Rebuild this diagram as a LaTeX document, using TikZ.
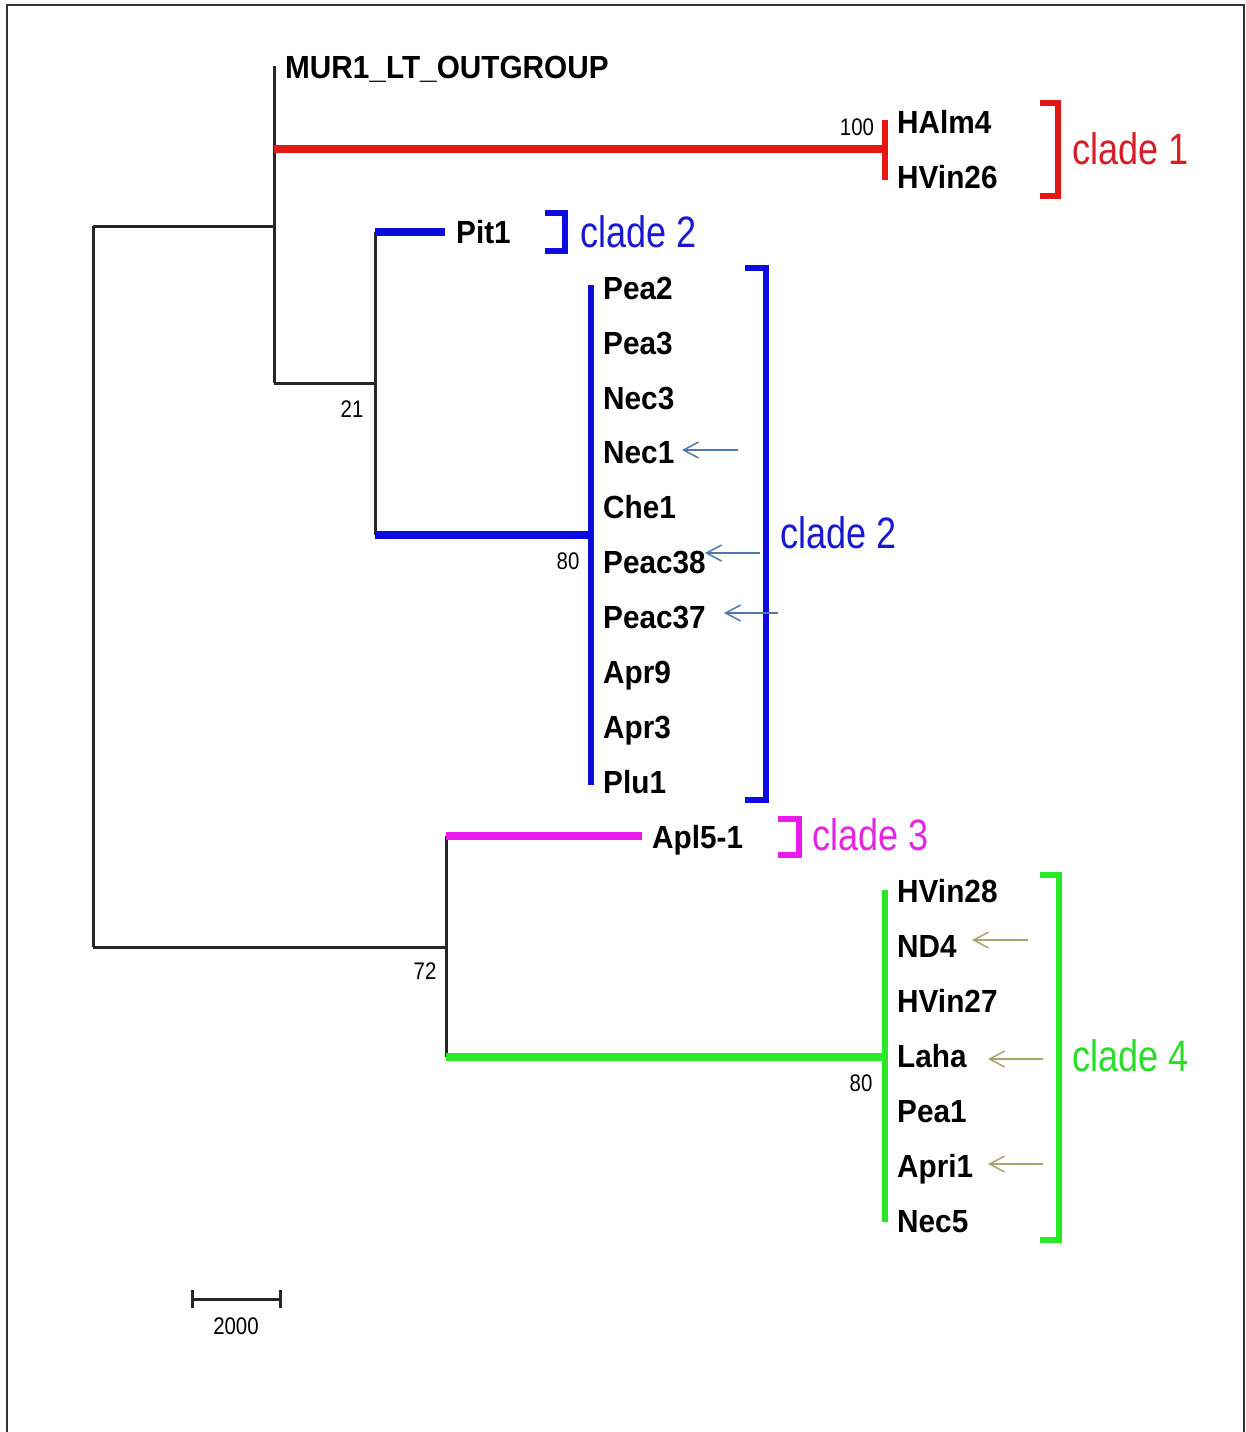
\documentclass[tikz,border=0pt]{standalone}
\usepackage{fontspec}
\setmainfont{Liberation Sans}
\usetikzlibrary{arrows.meta}
\definecolor{cred}{RGB}{228,22,22}
\definecolor{cblue}{RGB}{12,12,225}
\definecolor{cmag}{RGB}{235,25,235}
\definecolor{cgreen}{RGB}{40,232,40}
\definecolor{tred}{RGB}{215,30,40}
\definecolor{tblue}{RGB}{25,25,210}
\definecolor{tmag}{RGB}{225,40,225}
\definecolor{tgreen}{RGB}{40,220,40}
\definecolor{arrblue}{RGB}{80,120,175}
\definecolor{arrolive}{RGB}{165,165,115}
\begin{document}
\begin{tikzpicture}[x=1pt,y=-1pt,
  taxon/.style={anchor=base west,inner sep=0pt,font=\fontsize{32}{32}\selectfont\bfseries,xscale=0.93},
  bootval/.style={inner sep=0pt,font=\fontsize{24}{24}\selectfont,xscale=0.85},
  cladetext/.style={anchor=base west,inner sep=0pt,font=\fontsize{44}{44}\selectfont,xscale=0.82},
  blackline/.style={line width=3pt,black!85},
  hbranch/.style={line width=7.5pt},
  vbranch/.style={line width=6pt},
  bracketline/.style={line width=6pt},
  pointer/.style={line width=1.5pt,-{Straight Barb[length=15pt,width=16pt,line width=1.5pt]}}
]
\useasboundingbox (0,0) rectangle (1246,1432);
% frame
\draw[line width=1.8pt,black!80] (7,1432) -- (7,5) -- (1244,5) -- (1244,1432);

% internal node coordinates
\coordinate (rootT) at (93,226);
\coordinate (rootB) at (93,947);
\coordinate (aMid) at (274,226);
\coordinate (aTop) at (274,66);
\coordinate (aRed) at (274,149);
\coordinate (aBot) at (274,383);
\coordinate (bMid) at (375,383);
\coordinate (bTop) at (375,232);
\coordinate (bBot) at (375,535);
\coordinate (cTop) at (591,285);
\coordinate (cMid) at (591,535);
\coordinate (cBot) at (591,785);
\coordinate (rTop) at (885,120);
\coordinate (rMid) at (885,149);
\coordinate (rBot) at (885,180);
\coordinate (pitEnd) at (445,232);
\coordinate (dMid) at (446,947);
\coordinate (dTop) at (446,836);
\coordinate (dBot) at (446,1057);
\coordinate (aplEnd) at (642,836);
\coordinate (gTop) at (885,890);
\coordinate (gMid) at (885,1057);
\coordinate (gBot) at (885,1222);

% black connectors
\draw[blackline] (rootT) -- (rootB);
\draw[blackline] (rootT) -- (aMid);
\draw[blackline] (aTop) -- (aBot);
\draw[blackline] (aBot) -- (bMid);
\draw[blackline] (bTop) -- (bBot);
\draw[blackline] (rootB) -- (dMid);
\draw[blackline] (dTop) -- (dBot);

% coloured branches
\draw[hbranch,cred] (aRed) -- (rMid);
\draw[vbranch,cred] (rTop) -- (rBot);
\draw[hbranch,cblue] (bTop) -- (pitEnd);
\draw[hbranch,cblue] (bBot) -- (cMid);
\draw[vbranch,cblue] (cTop) -- (cBot);
\draw[hbranch,cmag] (dTop) -- (aplEnd);
\draw[hbranch,cgreen] (dBot) -- (gMid);
\draw[vbranch,cgreen] (gTop) -- (gBot);

% taxa
\node[taxon] (mur) at (285,78) {MUR1\_LT\_OUTGROUP};
\node[taxon] (halm4) at (897,133) {HAlm4};
\node[taxon] (hvin26) at (897,188) {HVin26};
\node[taxon] (pit1) at (456,243) {Pit1};
\node[taxon] (pea2) at (603,299) {Pea2};
\node[taxon] (pea3) at (603,354) {Pea3};
\node[taxon] (nec3) at (603,409) {Nec3};
\node[taxon] (nec1) at (603,463) {Nec1};
\node[taxon] (che1) at (603,518) {Che1};
\node[taxon] (peac38) at (603,573) {Peac38};
\node[taxon] (peac37) at (603,628) {Peac37};
\node[taxon] (apr9) at (603,683) {Apr9};
\node[taxon] (apr3) at (603,738) {Apr3};
\node[taxon] (plu1) at (603,793) {Plu1};
\node[taxon] (apl5) at (652,848) {Apl5-1};
\node[taxon] (hvin28) at (897,902) {HVin28};
\node[taxon] (nd4) at (897,957) {ND4};
\node[taxon] (hvin27) at (897,1012) {HVin27};
\node[taxon] (laha) at (897,1067) {Laha};
\node[taxon] (pea1) at (897,1122) {Pea1};
\node[taxon] (apri1) at (897,1177) {Apri1};
\node[taxon] (nec5) at (897,1232) {Nec5};

% bootstrap values
\node[bootval] (b100) at (857,127) {100};
\node[bootval] (b21) at (352,409) {21};
\node[bootval] (b80a) at (568,561) {80};
\node[bootval] (b72) at (425,971) {72};
\node[bootval] (b80b) at (861,1083) {80};

% clade brackets
\draw[bracketline,cred] (1040,103) -- (1058,103) -- (1058,196) -- (1040,196);
\draw[bracketline,cblue] (545,213) -- (565,213) -- (565,251) -- (545,251);
\draw[bracketline,cblue] (745,268) -- (766,268) -- (766,800) -- (745,800);
\draw[bracketline,cmag] (778,819) -- (799,819) -- (799,855) -- (778,855);
\draw[bracketline,cgreen] (1040,875) -- (1059,875) -- (1059,1240) -- (1040,1240);

% clade labels
\node[cladetext,text=tred] (cl1) at (1072,164) {clade 1};
\node[cladetext,text=tblue] (cl2a) at (580,247) {clade 2};
\node[cladetext,text=tblue] (cl2b) at (780,548) {clade 2};
\node[cladetext,text=tmag] (cl3) at (812,850) {clade 3};
\node[cladetext,text=tgreen] (cl4) at (1072,1071) {clade 4};

% pointer arrows
\coordinate (p1s) at (738,450); \coordinate (p1e) at (682,450);
\coordinate (p2s) at (760,553); \coordinate (p2e) at (705,553);
\coordinate (p3s) at (778,613); \coordinate (p3e) at (724,613);
\coordinate (p4s) at (1028,940); \coordinate (p4e) at (972,940);
\coordinate (p5s) at (1043,1059); \coordinate (p5e) at (988,1059);
\coordinate (p6s) at (1043,1164); \coordinate (p6e) at (988,1164);
\draw[pointer,arrblue] (p1s) -- (p1e);
\draw[pointer,arrblue] (p2s) -- (p2e);
\draw[pointer,arrblue] (p3s) -- (p3e);
\draw[pointer,arrolive] (p4s) -- (p4e);
\draw[pointer,arrolive] (p5s) -- (p5e);
\draw[pointer,arrolive] (p6s) -- (p6e);

% scale bar
\coordinate (sL) at (192,1299);
\coordinate (sR) at (280,1299);
\draw[line width=3pt,black!85] (sL) -- (sR);
\draw[line width=3pt,black!85] ([yshift=-9pt]sL) -- ([yshift=9pt]sL);
\draw[line width=3pt,black!85] ([yshift=-9pt]sR) -- ([yshift=9pt]sR);
\node[bootval] (sbar) at (236,1326) {2000};
\end{tikzpicture}
\end{document}
